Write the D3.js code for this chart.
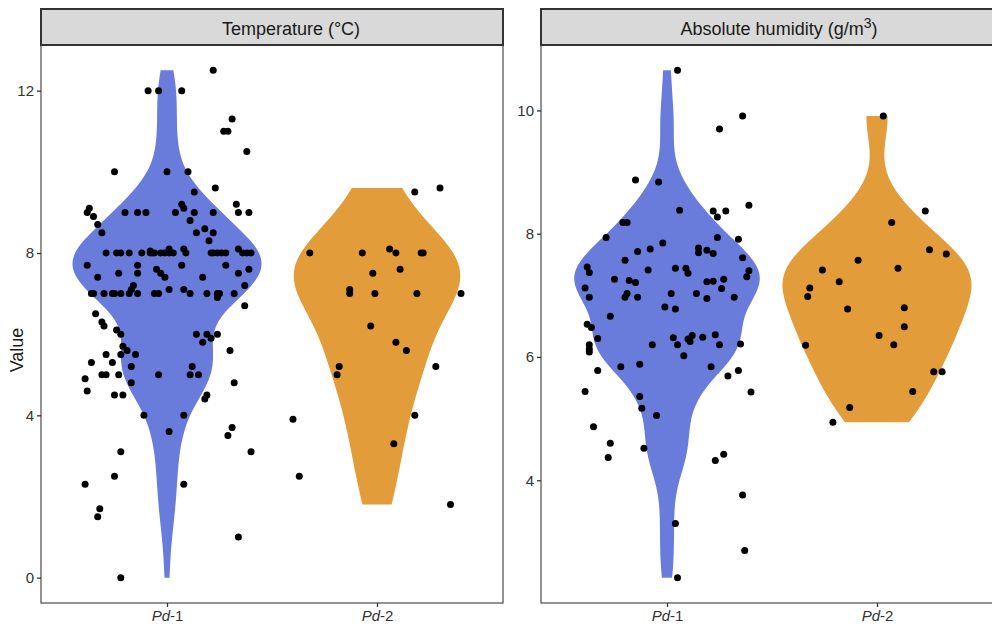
<!DOCTYPE html>
<html>
<head>
<meta charset="utf-8">
<script src="https://cdn.jsdelivr.net/npm/d3@7"></script>
<style>
  body { margin: 0; background: #fff; }
  text { font-family: "Liberation Sans", Arial, sans-serif; }
</style>
</head>
<body>
<svg id="chart" width="992" height="629"></svg>
<script>
// categories and colours
const categories = ["Pd-1", "Pd-2"];
const fills = ["#6a7cdb", "#e39c3a"];

// [value, horizontal jitter in category units]
const tempPd1 = [
  [12.5,0.22],[12.0,-0.09],[12.0,-0.04],[12.0,0.07],[11.3,0.31],[11.0,0.27],[11.0,0.29],[10.5,0.38],
  [10.0,-0.25],[10.0,0.0],[10.0,0.10],[9.6,0.23],[9.5,0.13],[9.2,0.33],[9.2,0.07],[9.1,0.08],
  [9.1,-0.37],[9.0,-0.38],[8.9,-0.35],[9.0,-0.20],[9.0,-0.14],[9.0,-0.10],[9.0,0.04],[9.0,0.13],
  [9.0,0.22],[9.0,0.34],[9.0,0.39],[8.8,0.11],[8.7,-0.33],[8.6,0.18],[8.5,0.14],[8.5,0.22],
  [8.5,-0.31],[8.3,0.20],[8.1,0.01],[8.1,0.08],[8.1,0.34],[8.05,-0.08],[8.0,-0.07],
  [8.0,-0.29],[8.0,-0.24],[8.0,-0.22],[8.0,-0.18],[8.0,-0.12],[8.0,-0.08],[8.0,-0.06],[8.0,-0.03],
  [8.0,-0.01],[8.0,0.01],[8.0,0.03],[8.0,0.09],[8.0,0.21],[8.0,0.22],[8.0,0.24],[8.0,0.26],
  [8.0,0.28],[8.0,0.36],[8.0,0.38],[8.0,0.40],
  [7.7,-0.38],[7.7,0.28],[7.7,0.07],[7.7,-0.14],[7.6,0.39],[7.6,-0.05],[7.5,-0.03],[7.4,-0.01],
  [7.5,-0.14],[7.5,-0.23],[7.5,0.34],[7.4,-0.33],[7.4,0.17],[7.2,0.37],[7.2,-0.16],[7.1,-0.17],
  [7.1,0.08],[7.1,0.01],[7.0,-0.06],[7.0,-0.04],
  [7.0,-0.36],[7.0,-0.35],[7.0,-0.30],[7.0,-0.26],[7.0,-0.25],[7.0,-0.22],[7.0,-0.18],[7.0,-0.14],
  [7.0,0.11],[7.0,0.19],[7.0,0.24],[7.0,0.25],[7.0,0.32],
  [6.9,0.24],[6.7,0.37],[6.5,-0.34],[6.3,-0.31],[6.2,-0.30],[6.1,-0.24],[6.0,-0.22],[5.7,-0.21],
  [5.6,-0.19],[5.5,-0.22],[5.5,-0.15],[5.5,-0.29],[5.3,-0.26],[5.3,-0.36],[5.2,-0.17],[5.0,-0.31],
  [5.0,-0.29],[5.0,-0.23],[5.0,-0.04],[5.0,0.11],[5.0,0.15],[5.2,0.12],[4.9,-0.39],[4.8,-0.17],
  [4.6,-0.38],[4.5,-0.25],[4.5,-0.21],[4.0,-0.11],[4.0,0.08],[3.6,0.01],[3.1,-0.22],[6.0,0.14],
  [6.0,0.19],[6.0,0.24],[5.8,0.17],[5.9,0.21],[5.6,0.30],[4.8,0.32],[4.5,0.19],[4.4,0.18],
  [3.7,0.31],[3.5,0.29],[3.1,0.40],[2.5,-0.25],[2.3,-0.39],[2.3,0.08],[1.7,-0.32],[1.5,-0.33],
  [1.0,0.34],[0.0,-0.22]
];
const tempPd2 = [
  [9.5,0.18],[9.6,0.30],[8.0,-0.32],[8.0,-0.07],[8.1,0.06],[8.0,0.09],[8.0,0.21],[8.0,0.22],
  [7.5,-0.02],[7.6,0.11],[7.1,-0.13],[7.0,-0.13],[7.0,-0.01],[7.0,0.19],[7.0,0.40],[6.2,-0.03],
  [5.8,0.09],[5.6,0.14],[5.2,-0.18],[5.0,-0.19],[5.2,0.28],[3.9,-0.40],[4.0,0.18],[3.3,0.08],
  [2.5,-0.37],[1.8,0.35]
];
const humPd1 = [
  [10.65,0.05],[9.91,0.36],[9.70,0.25],[8.87,-0.15],[8.84,-0.04],[8.46,0.39],[8.38,0.06],[8.37,0.22],
  [8.37,0.28],[8.27,0.24],[8.18,-0.21],[8.18,-0.19],[7.94,-0.29],[7.94,0.24],[7.91,0.34],[7.85,-0.02],
  [7.75,-0.08],[7.71,-0.14],[7.77,0.15],[7.69,0.15],[7.73,0.19],[7.68,0.22],[7.57,-0.20],[7.61,0.36],
  [7.46,-0.38],[7.37,-0.37],[7.41,-0.09],[7.44,0.04],[7.44,0.09],[7.36,0.10],[7.40,0.39],[7.30,0.38],
  [7.26,-0.25],[7.24,-0.18],[7.21,-0.15],[7.22,0.19],[7.23,0.22],[7.26,0.27],[7.12,-0.39],[7.11,0.26],
  [6.97,-0.37],[6.97,-0.20],[7.03,-0.19],[6.97,-0.14],[7.03,0.02],[7.03,0.14],[6.95,0.19],[6.97,0.32],
  [6.81,-0.01],[6.78,0.04],[6.66,-0.27],[6.53,-0.38],[6.48,-0.36],[6.30,-0.33],[6.20,-0.37],[6.13,-0.37],
  [6.08,-0.37],[6.20,-0.07],[6.31,0.03],[6.20,0.05],[6.29,0.10],[6.25,0.11],[6.35,0.12],[6.32,0.17],
  [6.36,0.23],[6.20,0.25],[6.21,0.35],[6.02,0.08],[5.84,-0.22],[5.88,-0.13],[5.78,-0.33],[5.84,0.21],
  [5.78,0.34],[5.69,0.29],[5.44,-0.39],[5.43,0.40],[5.36,-0.13],[5.17,-0.12],[5.05,-0.05],[4.87,-0.35],
  [4.60,-0.27],[4.37,-0.28],[4.52,-0.11],[4.42,0.27],[4.32,0.23],[3.76,0.36],[3.30,0.04],[2.86,0.37],
  [2.42,0.05]
];
const humPd2 = [
  [9.91,0.03],[8.37,0.23],[8.18,0.07],[7.74,0.25],[7.67,0.33],[7.57,-0.09],[7.41,-0.26],[7.44,0.10],
  [7.22,-0.18],[7.12,-0.32],[6.98,-0.33],[6.78,-0.14],[6.80,0.13],[6.49,0.13],[6.35,0.01],[6.20,0.08],
  [6.19,-0.34],[5.76,0.27],[5.76,0.31],[5.44,0.17],[5.18,-0.13],[4.94,-0.21]
];
const tempTicks = [0, 4, 8, 12];
const humTicks = [4, 6, 8, 10];

const svg = d3.select("#chart");
const panelTop = 45, panelBottom = 603, stripTop = 9;
const font = '"Liberation Sans", Arial, sans-serif';

// gaussian kde with R's bw.nrd0, trimmed to the data range
function kde(values) {
  const s = values.slice().sort(d3.ascending);
  const n = s.length;
  const sd = d3.deviation(s);
  const iqr = d3.quantile(s, 0.75) - d3.quantile(s, 0.25);
  const bw = 0.9 * Math.min(sd, iqr / 1.34) * Math.pow(n, -0.2);
  const lo = s[0], hi = s[n - 1];
  return d3.range(512).map(i => {
    const y = lo + (hi - lo) * i / 511;
    let d = 0;
    for (const v of s) { const u = (y - v) / bw; d += Math.exp(-0.5 * u * u); }
    return { y, d: d / (n * bw * Math.sqrt(2 * Math.PI)) };
  });
}

function drawPanel(cfg) {
  const g = svg.append("g");
  const x = d3.scaleLinear().domain([0.4, 2.6]).range(cfg.xRange);
  const all = cfg.groups.flat().map(d => d[0]);
  const [mn, mx] = d3.extent(all);
  const pad = (mx - mn) * 0.05;
  const y = d3.scaleLinear().domain([mn - pad, mx + pad]).range([panelBottom, panelTop]);

  // violins, area-scaled within the panel
  const dens = cfg.groups.map(grp => kde(grp.map(d => d[0])));
  const maxD = d3.max(dens, ds => d3.max(ds, p => p.d));
  dens.forEach((ds, i) => {
    const c = i + 1;
    const area = d3.area()
      .y(p => y(p.y))
      .x0(p => x(c - 0.45 * p.d / maxD))
      .x1(p => x(c + 0.45 * p.d / maxD));
    g.append("path").attr("d", area(ds)).attr("fill", fills[i]);
  });

  // jittered points
  cfg.groups.forEach((grp, i) => {
    g.selectAll(null).data(grp).join("circle")
      .attr("cx", d => x(i + 1 + d[1]))
      .attr("cy", d => y(d[0]))
      .attr("r", 3.5)
      .attr("fill", "#000");
  });

  // panel border
  g.append("rect")
    .attr("x", cfg.xRange[0]).attr("y", panelTop)
    .attr("width", cfg.xRange[1] - cfg.xRange[0]).attr("height", panelBottom - panelTop)
    .attr("fill", "none").attr("stroke", "#5a5a5a").attr("stroke-width", 1.3);

  // strip
  g.append("rect")
    .attr("x", cfg.xRange[0]).attr("y", stripTop)
    .attr("width", cfg.xRange[1] - cfg.xRange[0]).attr("height", panelTop - stripTop)
    .attr("fill", "#d9d9d9").attr("stroke", "#333").attr("stroke-width", 2);
  const title = g.append("text")
    .attr("x", cfg.titleX).attr("y", 35)
    .attr("text-anchor", "middle")
    .attr("font-size", 18).attr("fill", "#1a1a1a");
  cfg.title(title);

  // y axis
  const ya = g.append("g")
    .attr("transform", `translate(${cfg.xRange[0]},0)`)
    .call(d3.axisLeft(y).tickValues(cfg.ticks).tickSize(4).tickPadding(3));
  ya.select(".domain").remove();
  ya.selectAll("line").attr("stroke", "#333").attr("stroke-width", 1.3);
  ya.selectAll("text").attr("font-size", 15).attr("fill", "#333").style("font-family", font);

  // x axis
  const xa = g.append("g")
    .attr("transform", `translate(0,${panelBottom})`)
    .call(d3.axisBottom(x).tickValues([1, 2]).tickSize(4).tickPadding(3).tickFormat(""));
  xa.select(".domain").remove();
  xa.selectAll("line").attr("stroke", "#333").attr("stroke-width", 1.3);
  xa.selectAll(".tick text").each(function(v) {
    const t = d3.select(this)
      .attr("font-size", 15).attr("fill", "#333")
      .style("font-family", font);
    const parts = categories[v - 1].split("-");
    t.append("tspan").attr("font-style", "italic").text(parts[0]);
    t.append("tspan").text("-" + parts[1]);
  });
}

drawPanel({
  xRange: [41, 503],
  titleX: 291,
  groups: [tempPd1, tempPd2],
  ticks: tempTicks,
  title: t => t.text("Temperature (°C)")
});

drawPanel({
  xRange: [541, 1003],
  titleX: 779,
  groups: [humPd1, humPd2],
  ticks: humTicks,
  title: t => {
    t.append("tspan").text("Absolute humidity (g/m");
    t.append("tspan").attr("dy", -7).attr("font-size", 14).text("3");
    t.append("tspan").attr("dy", 7).text(")");
  }
});

// y axis title
svg.append("text")
  .attr("transform", "translate(23,350) rotate(-90)")
  .attr("text-anchor", "middle")
  .attr("font-size", 18).attr("fill", "#1a1a1a")
  .text("Value");
</script>
</body>
</html>
